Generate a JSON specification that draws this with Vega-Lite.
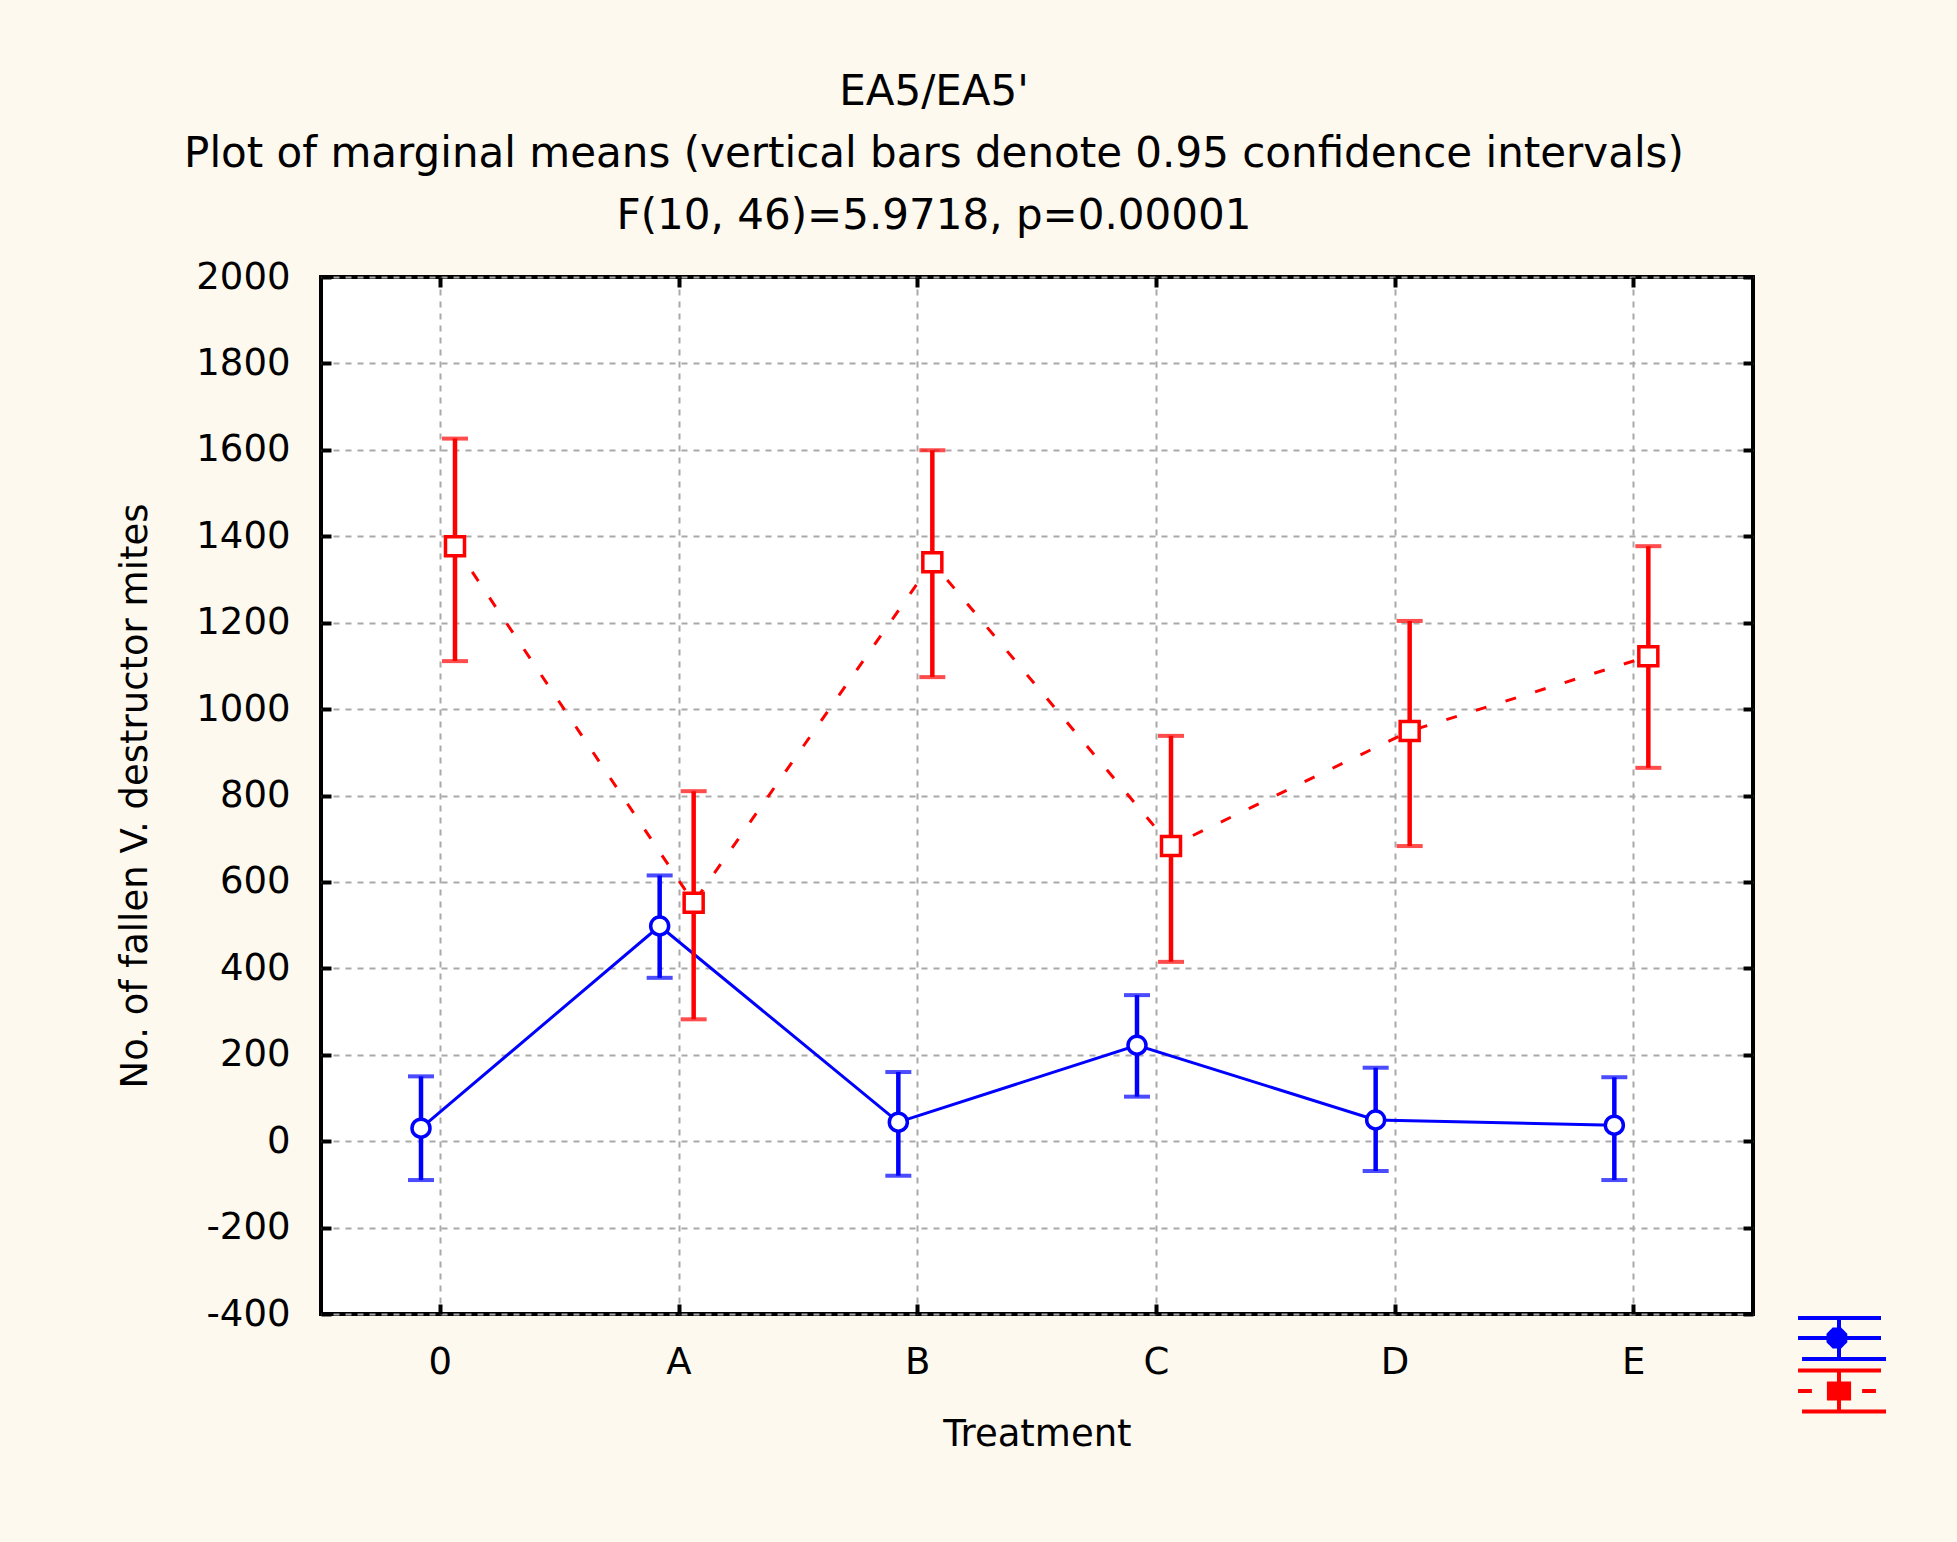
{
  "$schema": "https://vega.github.io/schema/vega-lite/v6.json",
  "autosize": {"type": "none"},
  "width": 1432,
  "height": 1037,
  "padding": {"left": 321, "top": 277, "right": 204, "bottom": 228},
  "background": "#fdf9ef",
  "title": {
    "text": [
      "EA5/EA5'",
      "Plot of marginal means  (vertical bars  denote 0.95 confidence intervals)",
      "F(10,  46)=5.9718, p=0.00001"
    ],
    "font": "DejaVu Sans",
    "fontSize": 42,
    "fontWeight": "normal",
    "color": "black",
    "lineHeight": 62,
    "anchor": "middle",
    "frame": "group",
    "dx": -103,
    "offset": 20
  },
  "data": {
    "values": [
      {"treatment": "0", "series": "EA5", "mean": 30, "lo": -90, "hi": 150},
      {"treatment": "A", "series": "EA5", "mean": 498, "lo": 378, "hi": 615},
      {"treatment": "B", "series": "EA5", "mean": 44, "lo": -80, "hi": 160},
      {"treatment": "C", "series": "EA5", "mean": 222, "lo": 103, "hi": 338},
      {"treatment": "D", "series": "EA5", "mean": 49, "lo": -69, "hi": 170},
      {"treatment": "E", "series": "EA5", "mean": 37, "lo": -90, "hi": 148},
      {"treatment": "0", "series": "EA5'", "mean": 1377, "lo": 1111, "hi": 1626},
      {"treatment": "A", "series": "EA5'", "mean": 552, "lo": 282, "hi": 810},
      {"treatment": "B", "series": "EA5'", "mean": 1340, "lo": 1074, "hi": 1599},
      {"treatment": "C", "series": "EA5'", "mean": 683, "lo": 415, "hi": 938},
      {"treatment": "D", "series": "EA5'", "mean": 949, "lo": 683, "hi": 1204},
      {"treatment": "E", "series": "EA5'", "mean": 1122, "lo": 864, "hi": 1377}
    ]
  },
  "encoding": {
    "x": {
      "field": "treatment",
      "type": "nominal",
      "scale": {"type": "band", "domain": ["0", "A", "B", "C", "D", "E"], "paddingInner": 0, "paddingOuter": 0},
      "axis": null
    },
    "xOffset": {
      "field": "series",
      "type": "nominal",
      "scale": {"type": "point", "domain": ["EA5", "EA5'"], "range": [100, 134], "padding": 0}
    },
    "color": {
      "field": "series",
      "type": "nominal",
      "scale": {"domain": ["EA5", "EA5'"], "range": ["#0000ff", "#ff0000"]},
      "legend": {
        "orient": "none",
        "legendX": 1495,
        "legendY": 1038,
        "title": null,
        "labelExpr": "''",
        "padding": 0,
        "rowPadding": -5,
        "symbolSize": 1764,
        "symbolStrokeWidth": 4,
        "symbolOpacity": 1,
        "symbolFillColor": "white",
        "symbolDash": [1, 0],
        "encode": {"symbols": {"update": {"fill": {"value": "white"}, "strokeWidth": {"value": 4}}}}
      }
    }
  },
  "layer": [
    {
      "transform": [{"filter": "datum.series == 'EA5'"}],
      "mark": {"type": "line", "strokeWidth": 3},
      "encoding": {
        "x": {
          "field": "treatment",
          "type": "nominal",
          "scale": {"type": "band", "domain": ["0", "A", "B", "C", "D", "E"], "paddingInner": 0, "paddingOuter": 0},
          "axis": {
            "orient": "bottom",
            "title": "Treatment",
            "labelAngle": 0,
            "domain": false,
            "tickSize": -10,
            "tickWidth": 4,
            "tickColor": "black",
            "labelPadding": 40,
            "titlePadding": 36,
            "grid": true,
            "gridColor": "#a9a9a9",
            "gridDash": [6, 6],
            "gridWidth": 2
          }
        },
        "y": {
          "field": "mean",
          "type": "quantitative",
          "scale": {"domain": [-400, 2000], "nice": false, "zero": false},
          "axis": {
            "orient": "left",
            "title": "No. of fallen V. destructor mites",
            "values": [-400, -200, 0, 200, 400, 600, 800, 1000, 1200, 1400, 1600, 1800, 2000],
            "labelExpr": "datum.value + ''",
            "domain": false,
            "tickSize": -10,
            "tickWidth": 4,
            "tickColor": "black",
            "labelPadding": 41,
            "titlePadding": 41,
            "grid": true,
            "gridColor": "#a9a9a9",
            "gridDash": [6, 6],
            "gridWidth": 2
          }
        }
      }
    },
    {
      "transform": [{"filter": "datum.series == \"EA5'\""}],
      "mark": {"type": "line", "strokeWidth": 3, "strokeDash": [11, 20]},
      "encoding": {
        "y": {"field": "mean", "type": "quantitative", "scale": {"domain": [-400, 2000], "nice": false, "zero": false}, "axis": null}
      }
    },
    {
      "mark": {"type": "rule", "strokeWidth": 4.5},
      "encoding": {
        "x": {
          "field": "treatment",
          "type": "nominal",
          "scale": {"type": "band", "domain": ["0", "A", "B", "C", "D", "E"], "paddingInner": 0, "paddingOuter": 0},
          "axis": {
            "orient": "top",
            "title": null,
            "labels": false,
            "domain": false,
            "grid": false,
            "tickSize": -10,
            "tickWidth": 4,
            "tickColor": "black"
          }
        },
        "y": {
          "field": "lo",
          "type": "quantitative",
          "scale": {"domain": [-400, 2000], "nice": false, "zero": false},
          "axis": {
            "orient": "right",
            "title": null,
            "labels": false,
            "values": [-400, -200, 0, 200, 400, 600, 800, 1000, 1200, 1400, 1600, 1800, 2000],
            "domain": false,
            "grid": false,
            "tickSize": -10,
            "tickWidth": 4,
            "tickColor": "black"
          }
        },
        "y2": {"field": "hi"}
      }
    },
    {
      "mark": {"type": "tick", "orient": "horizontal", "size": 26, "thickness": 4},
      "encoding": {
        "y": {"field": "lo", "type": "quantitative", "scale": {"domain": [-400, 2000], "nice": false, "zero": false}, "axis": null}
      }
    },
    {
      "mark": {"type": "tick", "orient": "horizontal", "size": 26, "thickness": 4},
      "encoding": {
        "y": {"field": "hi", "type": "quantitative", "scale": {"domain": [-400, 2000], "nice": false, "zero": false}, "axis": null}
      }
    },
    {
      "transform": [{"filter": "datum.series == 'EA5'"}],
      "mark": {"type": "point", "shape": "circle", "size": 324, "filled": false, "fill": "white", "fillOpacity": 1, "stroke": "#0000ff", "strokeWidth": 3.5, "opacity": 1},
      "encoding": {
        "y": {"field": "mean", "type": "quantitative", "scale": {"domain": [-400, 2000], "nice": false, "zero": false}, "axis": null},
        "color": {"value": null}
      }
    },
    {
      "transform": [{"filter": "datum.series == \"EA5'\""}],
      "mark": {"type": "point", "shape": "square", "size": 361, "filled": false, "fill": "white", "fillOpacity": 1, "stroke": "#ff0000", "strokeWidth": 3.5, "opacity": 1},
      "encoding": {
        "y": {"field": "mean", "type": "quantitative", "scale": {"domain": [-400, 2000], "nice": false, "zero": false}, "axis": null},
        "color": {"value": null}
      }
    },
    {
      "transform": [{"filter": "false"}],
      "mark": {"type": "point", "filled": false, "fill": "white", "size": 1764, "strokeWidth": 4},
      "encoding": {
        "y": {"field": "mean", "type": "quantitative", "scale": {"domain": [-400, 2000], "nice": false, "zero": false}, "axis": null},
        "shape": {
          "field": "series",
          "type": "nominal",
          "scale": {
            "domain": ["EA5", "EA5'"],
            "range": [
              "M-1.95,-0.95H2M0,-0.95V-0.4M0,0.4V1M-1.76,1H2.24M-1.95,0H-0.5M0.3,0H2M0.065,-0.4L0.3,-0.165L0.3,0.165L0.065,0.4L-0.265,0.4L-0.5,0.165L-0.5,-0.165L-0.265,-0.4Z",
              "M-1.95,-0.98H2M0,-0.98V-0.36M0,0.36V0.98M-1.76,0.98H2.24M-1.95,0H-1.29M1.1,0H1.76M-0.48,-0.36H0.48V0.36H-0.48Z"
            ]
          },
          "legend": {
            "orient": "none",
            "legendX": 1495,
            "legendY": 1038,
            "title": null,
            "labelExpr": "''",
            "padding": 0,
            "rowPadding": -5,
            "symbolSize": 1764,
            "symbolStrokeWidth": 4,
            "symbolOpacity": 1,
            "symbolFillColor": "white",
            "symbolDash": [1, 0],
            "encode": {"symbols": {"update": {"fill": {"value": "white"}, "strokeWidth": {"value": 4}}}}
          }
        }
      }
    }
  ],
  "resolve": {"axis": {"x": "independent", "y": "independent"}},
  "config": {
    "view": {"stroke": "black", "strokeWidth": 4, "fill": "white"},
    "axis": {
      "labelFont": "DejaVu Sans",
      "titleFont": "DejaVu Sans",
      "labelFontSize": 37,
      "titleFontSize": 37,
      "labelColor": "black",
      "titleColor": "black",
      "titleFontWeight": "normal"
    }
  }
}
